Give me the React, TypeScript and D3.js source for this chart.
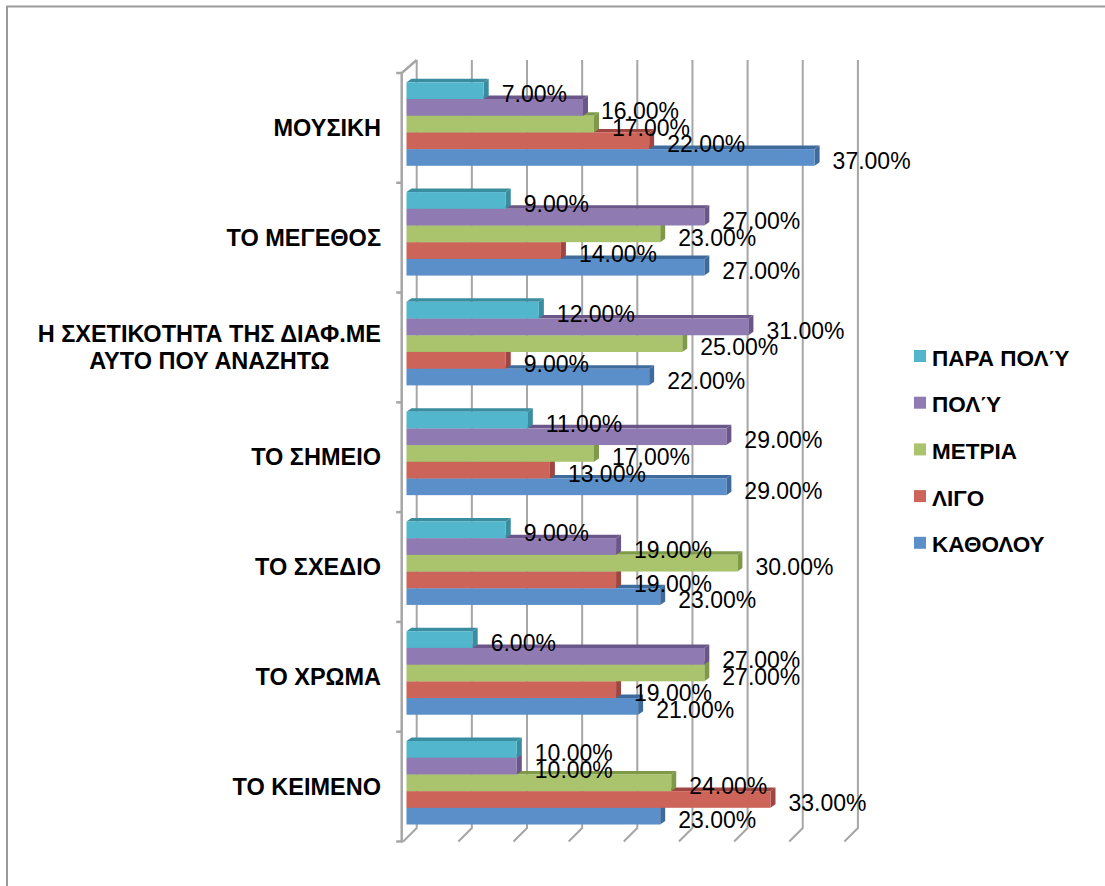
import React, { useEffect, useRef } from "react";
import * as d3 from "d3";

const categories = [
  ["ΜΟΥΣΙΚΗ"],
  ["ΤΟ ΜΕΓΕΘΟΣ"],
  ["Η ΣΧΕΤΙΚΟΤΗΤΑ ΤΗΣ ΔΙΑΦ.ΜΕ", "ΑΥΤΟ ΠΟΥ ΑΝΑΖΗΤΩ"],
  ["ΤΟ ΣΗΜΕΙΟ"],
  ["ΤΟ ΣΧΕΔΙΟ"],
  ["ΤΟ ΧΡΩΜΑ"],
  ["ΤΟ ΚΕΙΜΕΝΟ"],
];

// series listed top-to-bottom as in the legend
const seriesNames = ["ΠΑΡΑ ΠΟΛΎ", "ΠΟΛΎ", "ΜΕΤΡΙΑ", "ΛΙΓΟ", "ΚΑΘΟΛΟΥ"];
const paraPoly = [7, 9, 12, 11, 9, 6, 10];
const poly = [16, 27, 31, 29, 19, 27, 10];
const metria = [17, 23, 25, 17, 30, 27, 24];
const ligo = [22, 14, 9, 13, 19, 19, 33];
const katholou = [37, 27, 22, 29, 23, 21, 23];
const seriesValues = [paraPoly, poly, metria, ligo, katholou];

const frontColors = ["#52B6CD", "#8F7AB2", "#A9C46C", "#CD6459", "#5B8FC9"];
const darkColors = ["#3A8C9F", "#6A5689", "#7E9A48", "#9E4641", "#3F6B9C"];

const xTicks = [0, 5, 10, 15, 20, 25, 30, 35, 40];

export default function App() {
  const ref = useRef<SVGSVGElement | null>(null);

  useEffect(() => {
    const svg = d3.select(ref.current);
    svg.selectAll("*").remove();
    const font = "'Liberation Sans', Arial, sans-serif";

    // outer border
    svg.append("rect").attr("x", 7).attr("y", 6.5).attr("width", 1120).attr("height", 900)
      .attr("fill", "none").attr("stroke", "#9a9a9a").attr("stroke-width", 2);

    const x = d3.scaleLinear().domain([0, 40]).range([0, 441.2]);
    const backX0 = 416.7;
    const barX0 = 406.5;
    const floorX0 = 403.2;
    const backTop = 60;
    const backBottom = 828;
    const frontTop = 73;
    const frontBottom = 841.5;

    const yCat = d3.scaleBand<number>().domain(d3.range(categories.length)).range([frontTop, frontBottom]);
    const ySer = d3.scaleBand<number>().domain(d3.range(seriesNames.length)).range([9.3, 92.8]);

    const grid = svg.append("g").attr("stroke", "#a6a6a6").attr("stroke-width", 2).attr("fill", "none");
    xTicks.forEach((t) => {
      grid.append("path").attr("d",
        `M${backX0 + x(t)},${backTop} L${backX0 + x(t)},${backBottom} L${floorX0 + x(t)},${frontBottom}`);
    });
    // left wall / axis
    grid.append("path").attr("d", `M${backX0},${backTop} L${floorX0 - 1.5},${frontTop} L${floorX0 - 1.5},${frontBottom} L${floorX0 - 7},${frontBottom}`)
      .attr("stroke-width", 2.5);
    d3.range(categories.length).forEach((c) => {
      const ty = yCat(c)!;
      grid.append("line").attr("x1", floorX0 - 7).attr("x2", floorX0 - 1.5).attr("y1", ty).attr("y2", ty).attr("stroke-width", 2.5);
    });

    const dx = 5, dy = -3.5;
    const bars = svg.append("g");
    const labels: { x: number; y: number; t: string }[] = [];
    d3.range(categories.length).forEach((c) => {
      for (let s = seriesNames.length - 1; s >= 0; s--) {
        const v = seriesValues[s][c];
        const y0 = yCat(c)! + ySer(s)!;
        const h = ySer.bandwidth();
        const x0 = barX0;
        const x1 = barX0 + x(v);
        bars.append("polygon").attr("points", `${x0},${y0} ${x1},${y0} ${x1 + dx},${y0 + dy} ${x0 + dx},${y0 + dy}`)
          .attr("fill", darkColors[s]);
        bars.append("polygon").attr("points", `${x1},${y0} ${x1 + dx},${y0 + dy} ${x1 + dx},${y0 + h + dy} ${x1},${y0 + h}`)
          .attr("fill", darkColors[s]);
        bars.append("rect").attr("x", x0).attr("y", y0).attr("width", x(v)).attr("height", h).attr("fill", frontColors[s]);
        labels.push({ x: x1 + 18, y: y0 + h / 2 + 3.5 + 8.2, t: v.toFixed(2) + "%" });
      }
    });

    svg.append("g").selectAll("text").data(labels).join("text")
      .attr("x", (d) => d.x).attr("y", (d) => d.y).text((d) => d.t)
      .attr("font-family", font).attr("font-size", 23).attr("fill", "#000");

    // category labels
    const catG = svg.append("g");
    categories.forEach((lines, c) => {
      const cy = yCat(c)! + yCat.bandwidth() / 2;
      const lh = 26.7;
      const texts = lines.map((ln, i) => catG.append("text")
        .attr("y", cy + (i - (lines.length - 1) / 2) * lh + 8.1)
        .attr("font-family", font).attr("font-size", 23.5).attr("font-weight", "bold")
        .text(ln));
      const widths = texts.map((t) => (t.node() as SVGTextElement).getComputedTextLength());
      const w = Math.max(...widths);
      texts.forEach((t) => t.attr("text-anchor", "middle").attr("x", 381 - w / 2));
    });

    // legend
    const leg = svg.append("g");
    seriesNames.forEach((n, i) => {
      const cy = 358 + i * 46.7;
      leg.append("rect").attr("x", 914).attr("y", cy - 8).attr("width", 12).attr("height", 12).attr("fill", frontColors[i]);
      leg.append("text").attr("x", 932).attr("y", cy + 7.6).attr("font-family", font)
        .attr("font-size", 22.5).attr("font-weight", "bold").text(n);
    });
  }, []);

  return (
    <svg ref={ref} width={1105} height={886}
      style={{ position: "absolute", left: 0, top: 0, background: "#fff" }} />
  );
}
